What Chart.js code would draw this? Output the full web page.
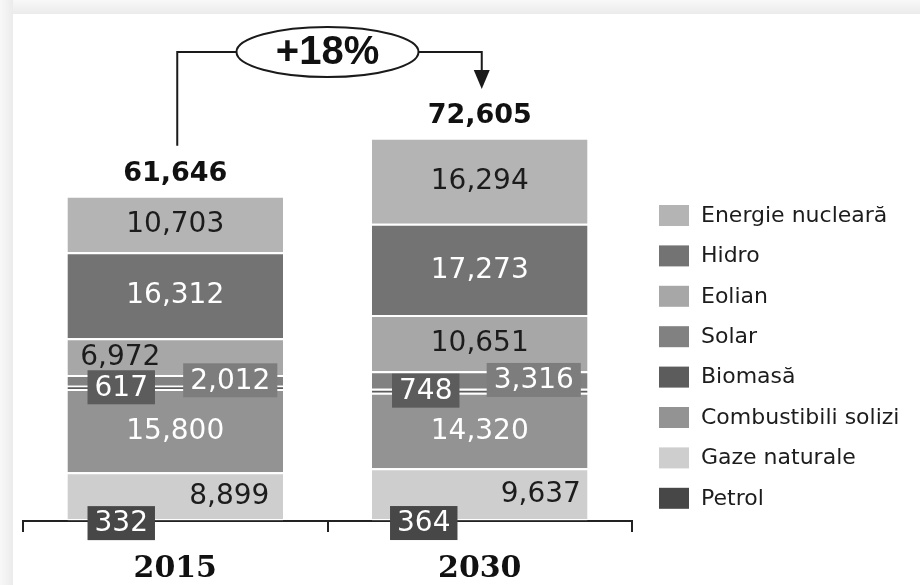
<!DOCTYPE html>
<html>
<head>
<meta charset="utf-8">
<script src="https://cdn.jsdelivr.net/npm/chart.js@4.4.0/dist/chart.umd.min.js"></script>
<style>
  html, body { margin: 0; padding: 0; background: #fff; }
  #wrap { width: 920px; height: 585px; }
</style>
</head>
<body>
<div id="wrap"><canvas id="mixChart"></canvas></div>
<script>
// categories and series (bottom of the stack first)
const years = ['2015', '2030'];
const sources = ['Petrol', 'Gaze naturale', 'Combustibili solizi', 'Biomasă', 'Solar', 'Eolian', 'Hidro', 'Energie nucleară'];
const petrol = [332, 364];
const gaze = [8899, 9637];
const solizi = [15800, 14320];
const biomasa = [617, 748];
const solar = [2012, 3316];
const eolian = [6972, 10651];
const hidro = [16312, 17273];
const nuclear = [10703, 16294];
const totals = [61646, 72605];
const growthLabel = '+18%';

const seriesValues = [petrol, gaze, solizi, biomasa, solar, eolian, hidro, nuclear];
const colors = ['#474747', '#cecece', '#939393', '#5c5c5c', '#818181', '#a7a7a7', '#737373', '#b4b4b4'];

// how each segment value is written (box = dark tag beside the bar)
const labelStyles = [
    { box: '#474747', color: '#fff', dx: [-54, -56], dy: 3 },
    { color: '#1c1c1c', dx: [54, 61] },
    { color: '#fff' },
    { box: '#5c5c5c', color: '#fff', dx: [-54, -54] },
    { box: '#7d7d7d', color: '#fff', dx: [55, 54] },
    { color: '#1c1c1c', dx: [-55, 0] },
    { color: '#fff' },
    { color: '#1c1c1c' }
];

function fmt(v) {
    return v.toLocaleString('en-US');
}

// grey frame round the white panel
const frame = {
    id: 'frame',
    beforeDraw(chart) {
        const ctx = chart.ctx;
        ctx.save();
        ctx.fillStyle = '#ffffff';
        ctx.fillRect(0, 0, chart.width, chart.height);
        let g = ctx.createLinearGradient(0, 0, 0, 14);
        g.addColorStop(0, '#f8f8f8');
        g.addColorStop(1, '#ebebeb');
        ctx.fillStyle = g;
        ctx.fillRect(0, 0, chart.width, 14);
        g = ctx.createLinearGradient(0, 0, 13, 0);
        g.addColorStop(0, '#f8f8f8');
        g.addColorStop(1, '#ebebeb');
        ctx.fillStyle = g;
        ctx.fillRect(0, 0, 13, chart.height);
        ctx.restore();
    }
};

const segmentLabels = {
    id: 'segmentLabels',
    afterDatasetsDraw(chart) {
        const ctx = chart.ctx;
        ctx.save();
        ctx.textAlign = 'center';
        ctx.textBaseline = 'middle';
        ctx.font = '28px "DejaVu Sans"';
        chart.data.datasets.forEach((ds, i) => {
            const st = labelStyles[i];
            chart.getDatasetMeta(i).data.forEach((bar, j) => {
                const text = fmt(ds.data[j]);
                const x = bar.x + (st.dx ? st.dx[j] : 0);
                const y = (bar.y + bar.base) / 2 + (st.dy || 0);
                if (st.box) {
                    const w = ctx.measureText(text).width + 14;
                    ctx.fillStyle = st.box;
                    ctx.fillRect(x - w / 2, y - 17, w, 34);
                }
                ctx.fillStyle = st.color;
                ctx.fillText(text, x, y + 1);
            });
        });

        // totals above each bar
        const top = chart.getDatasetMeta(chart.data.datasets.length - 1).data;
        ctx.font = 'bold 27px "DejaVu Sans"';
        ctx.fillStyle = '#111';
        top.forEach((bar, j) => ctx.fillText(fmt(totals[j]), bar.x, bar.y - 22));

        // growth connector with the ellipse
        const x0 = top[0].x, x1 = top[1].x;
        const cx = (x0 + x1) / 2, cy = 52, rx = 91, ry = 25;
        ctx.strokeStyle = '#1a1a1a';
        ctx.lineWidth = 2;
        ctx.beginPath();
        ctx.moveTo(x0 + 2, top[0].y - 50);
        ctx.lineTo(x0 + 2, cy);
        ctx.lineTo(cx - rx, cy);
        ctx.moveTo(cx + rx, cy);
        ctx.lineTo(x1 + 2, cy);
        ctx.lineTo(x1 + 2, 72);
        ctx.stroke();
        ctx.beginPath();
        ctx.moveTo(x1 - 6, 70);
        ctx.lineTo(x1 + 10, 70);
        ctx.lineTo(x1 + 2, 89);
        ctx.closePath();
        ctx.fillStyle = '#1a1a1a';
        ctx.fill();
        ctx.beginPath();
        ctx.ellipse(cx, cy, rx, ry, 0, 0, Math.PI * 2);
        ctx.fillStyle = '#fff';
        ctx.fill();
        ctx.stroke();
        ctx.fillStyle = '#111';
        ctx.font = 'bold 40px "Liberation Sans"';
        ctx.fillText(growthLabel, cx, cy + 1);
        ctx.restore();
    }
};

// legend on the right, top of the stack listed first
const sideLegend = {
    id: 'sideLegend',
    afterDraw(chart) {
        const ctx = chart.ctx;
        const lx = 659, ly = 205, rowH = 40.4;
        ctx.save();
        ctx.font = '22px "DejaVu Sans"';
        ctx.textBaseline = 'middle';
        ctx.textAlign = 'left';
        const ds = chart.data.datasets;
        for (let k = 0; k < ds.length; k++) {
            const d = ds[ds.length - 1 - k];
            const y = ly + k * rowH;
            ctx.fillStyle = d.backgroundColor;
            ctx.fillRect(lx, y, 30, 21);
            ctx.fillStyle = '#1c1c1c';
            ctx.fillText(d.label, lx + 42, y + 11);
        }
        ctx.restore();
    }
};

document.addEventListener('DOMContentLoaded', function() {
    const ctx = document.getElementById('mixChart').getContext('2d');
    new Chart(ctx, {
        type: 'bar',
        data: {
            labels: years,
            datasets: sources.map((name, i) => ({
                label: name,
                data: seriesValues[i],
                backgroundColor: colors[i],
                borderColor: '#ffffff',
                borderWidth: { top: 2, bottom: 0, left: 0, right: 0 },
                borderSkipped: false,
                barPercentage: 1,
                categoryPercentage: 0.708
            }))
        },
        options: {
            responsive: true,
            maintainAspectRatio: false,
            animation: false,
            layout: { padding: { left: 23, right: 288, top: 46, bottom: 0 } },
            plugins: {
                legend: { display: false },
                tooltip: { enabled: false }
            },
            scales: {
                x: {
                    stacked: true,
                    afterFit(scale) { scale.height = 64; }, // keep the axis band as thin as in the picture
                    border: { display: true, color: '#222', width: 2 },
                    grid: { display: true, drawOnChartArea: false, drawTicks: true, tickLength: 11, color: '#222', lineWidth: 2 },
                    ticks: { color: '#111', padding: 19, font: { family: '"DejaVu Serif"', size: 30, weight: 'bold' } }
                },
                y: {
                    stacked: true,
                    display: false,
                    min: 0,
                    max: 90000
                }
            }
        },
        plugins: [frame, segmentLabels, sideLegend]
    });
});
</script>
</body>
</html>
